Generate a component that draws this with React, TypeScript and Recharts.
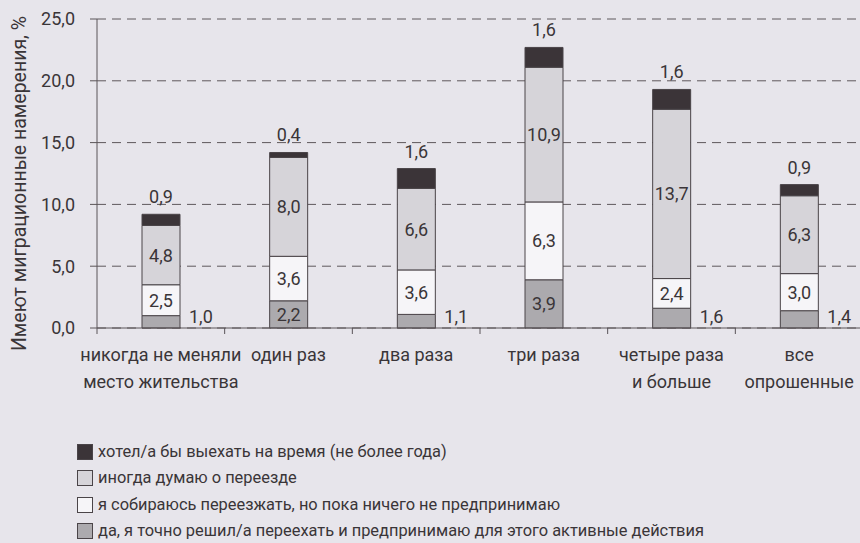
import React from "react";
import { BarChart, Bar, XAxis, YAxis, CartesianGrid, LabelList } from "recharts";

const categories = ["никогда не меняли|место жительства", "один раз", "два раза", "три раза", "четыре раза|и больше", "все|опрошенные"];
const decided = [1.0, 2.2, 1.1, 3.9, 1.6, 1.4];
const planning = [2.5, 3.6, 3.6, 6.3, 2.4, 3.0];
const sometimes = [4.8, 8.0, 6.6, 10.9, 13.7, 6.3];
const temporary = [0.9, 0.4, 1.6, 1.6, 1.6, 0.9];
const yTicks = [0, 5, 10, 15, 20, 25];

const seriesNames = {
  temporary: "хотел/а бы выехать на время (не более года)",
  sometimes: "иногда думаю о переезде",
  planning: "я собираюсь переезжать, но пока ничего не предпринимаю",
  decided: "да, я точно решил/а переехать и предпринимаю для этого активные действия",
};

const colors = {
  temporary: "#3b3438",
  sometimes: "#d6d4d9",
  planning: "#f6f5f8",
  decided: "#acaaae",
};

const data = categories.map((c, i) => ({
  name: c,
  decided: decided[i],
  planning: planning[i],
  sometimes: sometimes[i],
  temporary: temporary[i],
}));

const FONT = "Roboto, 'Liberation Sans', sans-serif";
const TEXT = "#3a3538";
const FS = 18;
const fmt = (v: number) => v.toFixed(1).replace(".", ",");

const CenterLabel = (props: any) => {
  const { x, y, width, height, value } = props;
  return (
    <text x={x + width / 2} y={y + height / 2} textAnchor="middle" dominantBaseline="central" fontSize={FS} fontFamily={FONT} fill={TEXT}>
      {fmt(value)}
    </text>
  );
};

const TopLabel = (props: any) => {
  const { x, y, width, value } = props;
  return (
    <text x={x + width / 2} y={y - 11} textAnchor="middle" fontSize={FS} fontFamily={FONT} fill={TEXT}>
      {fmt(value)}
    </text>
  );
};

const BottomLabel = (props: any) => {
  const { x, y, width, height, value } = props;
  if (value >= 2) {
    return <CenterLabel {...props} />;
  }
  return (
    <text x={x + width + 9} y={y + height - 5} textAnchor="start" fontSize={FS} fontFamily={FONT} fill={TEXT}>
      {fmt(value)}
    </text>
  );
};

const XTick = (props: any) => {
  const { x, y, payload } = props;
  const half = payload && payload.offset ? payload.offset : 0;
  const lines = String(payload.value).split("|");
  return (
    <g>
      <line x1={x - half} x2={x - half} y1={y} y2={y + 6} stroke="#5a5458" strokeWidth={1} />
      {lines.map((l, i) => (
        <text key={i} x={x} y={y + 33 + i * 27} textAnchor="middle" fontSize={FS} fontFamily={FONT} fill={TEXT}>
          {l}
        </text>
      ))}
    </g>
  );
};

const YLabel = (props: any) => {
  const vb = props.viewBox || { x: 0, y: 19, width: 97, height: 309 };
  const cx = vb.x + 19;
  const cy = vb.y + vb.height / 2 + 10;
  return (
    <text x={cx} y={cy} transform={`rotate(-90, ${cx}, ${cy})`} textAnchor="middle" dominantBaseline="central" fontSize={19.5} fontFamily={FONT} fill={TEXT}>
      Имеют миграционные намерения, %
    </text>
  );
};

const legendOrder: (keyof typeof seriesNames)[] = ["temporary", "sometimes", "planning", "decided"];

export default function App() {
  return (
    <div style={{ position: "absolute", left: 0, top: 0, width: 860, height: 543, overflow: "hidden", background: "#e7e5eb" }}>
      <BarChart width={864} height={543} data={data} margin={{ top: 19, right: 1, left: 0, bottom: 185 }} barSize={38}>
        <CartesianGrid vertical={false} stroke="#5e585c" strokeDasharray="9 6" />
        <XAxis
          dataKey="name"
          interval={0}
          tickLine={false}
          tickSize={0}
          tickMargin={0}
          height={30}
          axisLine={{ stroke: "#5a5458" }}
          tick={<XTick />}
        />
        <YAxis
          width={97}
          domain={[0, 25]}
          ticks={yTicks}
          interval={0}
          tickSize={7}
          tickMargin={15}
          tickFormatter={fmt}
          axisLine={{ stroke: "#5a5458" }}
          tickLine={{ stroke: "#5a5458" }}
          tick={{ fontSize: FS, fontFamily: FONT, fill: TEXT }}
          label={<YLabel />}
        />
        <Bar dataKey="decided" stackId="a" fill={colors.decided} stroke="#4a4448" strokeWidth={1} isAnimationActive={false}>
          <LabelList dataKey="decided" content={<BottomLabel />} />
        </Bar>
        <Bar dataKey="planning" stackId="a" fill={colors.planning} stroke="#4a4448" strokeWidth={1} isAnimationActive={false}>
          <LabelList dataKey="planning" content={<CenterLabel />} />
        </Bar>
        <Bar dataKey="sometimes" stackId="a" fill={colors.sometimes} stroke="#4a4448" strokeWidth={1} isAnimationActive={false}>
          <LabelList dataKey="sometimes" content={<CenterLabel />} />
        </Bar>
        <Bar dataKey="temporary" stackId="a" fill={colors.temporary} stroke="#4a4448" strokeWidth={1} isAnimationActive={false}>
          <LabelList dataKey="temporary" content={<TopLabel />} />
        </Bar>
      </BarChart>
      <div style={{ position: "absolute", left: 77, top: 439, fontFamily: FONT, fontSize: 16.4, lineHeight: "20px", color: TEXT }}>
        {legendOrder.map((k) => (
          <div key={k} style={{ display: "flex", alignItems: "center", height: 26.3 }}>
            <span style={{ display: "inline-block", width: 14, height: 14, background: colors[k], border: "1px solid #4a4448", marginRight: 5, flexShrink: 0 }} />
            <span style={{ whiteSpace: "nowrap" }}>{seriesNames[k]}</span>
          </div>
        ))}
      </div>
    </div>
  );
}
